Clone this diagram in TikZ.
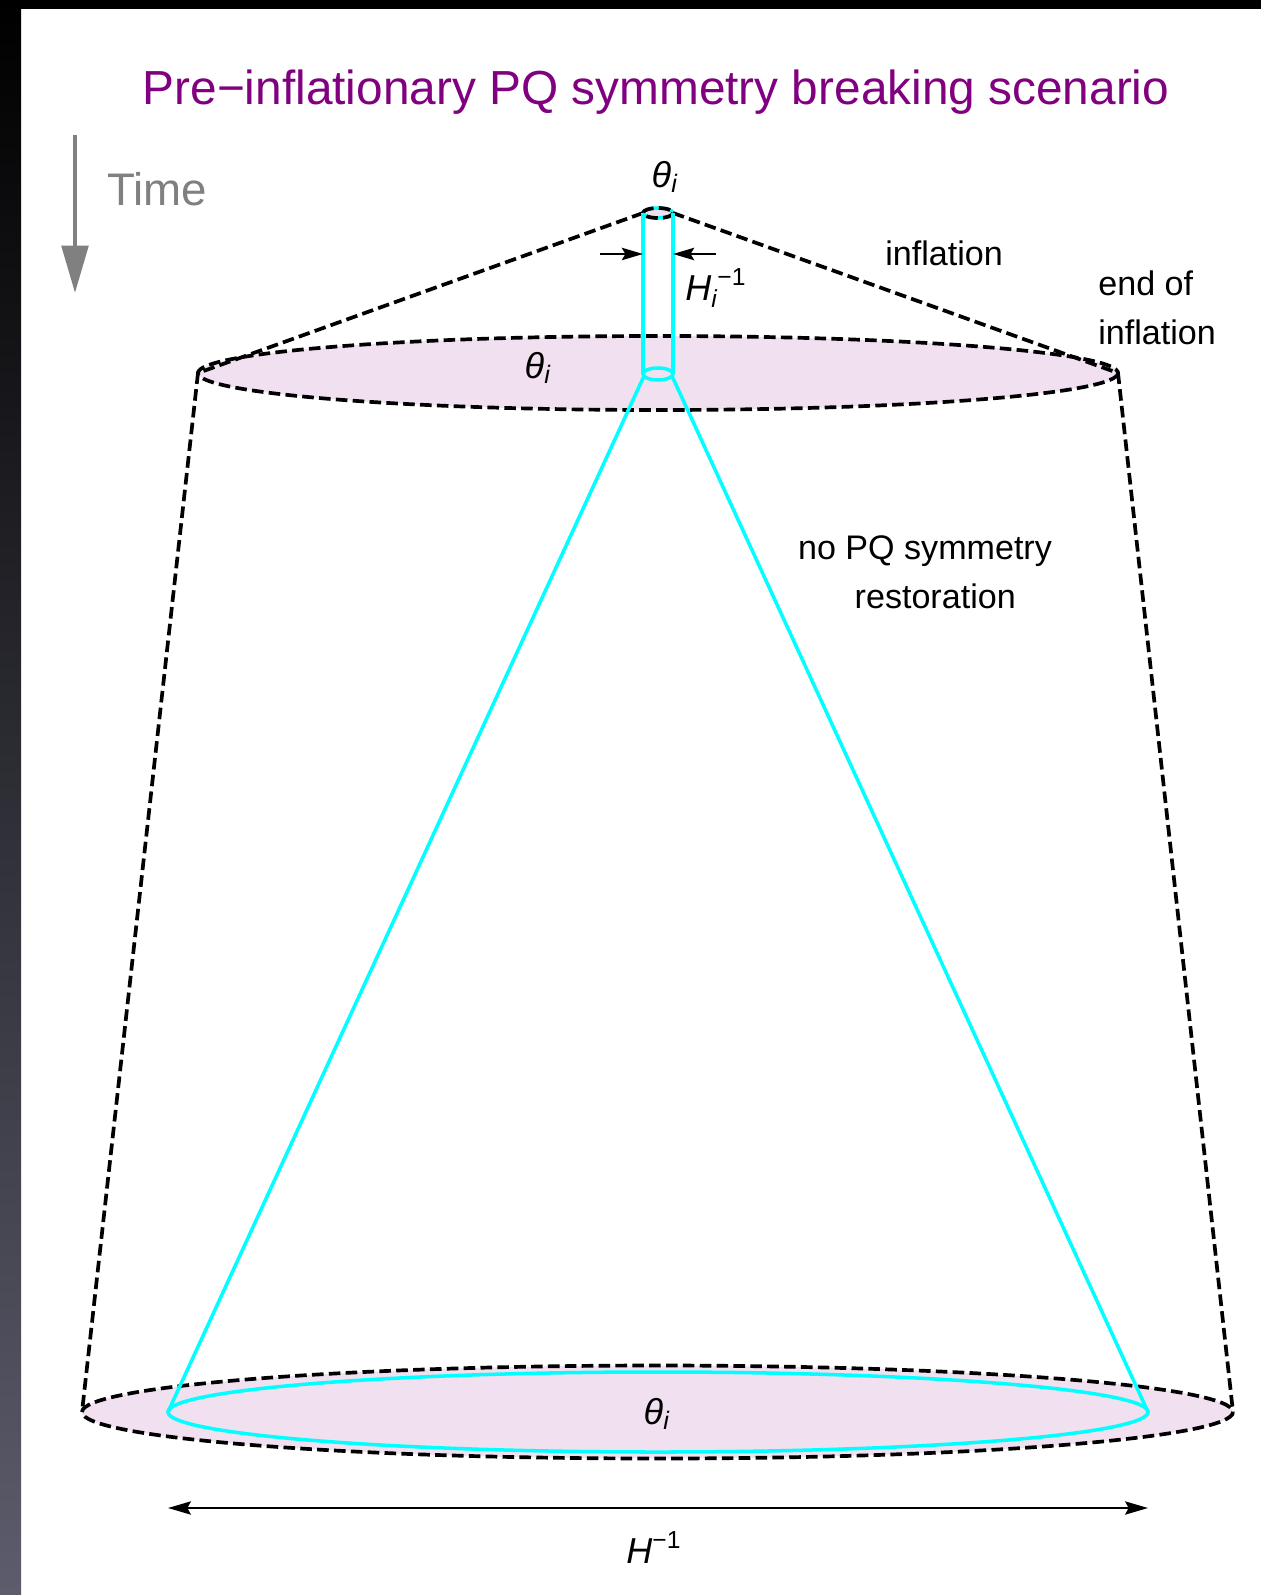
\documentclass[tikz,border=0pt]{standalone}
\usepackage{fontspec}
\setmainfont{Liberation Sans}
\usetikzlibrary{arrows.meta}
\definecolor{pqpurple}{RGB}{128,0,128}
\definecolor{discpink}{RGB}{240,224,240}
\definecolor{hubble}{RGB}{0,255,255}
\definecolor{timegray}{RGB}{128,128,128}
\newcommand{\thetaI}{\textit{θ}\textsubscript{\textit{i}}}
\newcommand{\invH}[1]{\textit{H}#1\raisebox{8.5pt}{\fontsize{14}{14}\selectfont −1}}
\tikzset{
  horizon/.style={line width=2.1pt,dash pattern=on 6.6pt off 3pt},
  patch/.style={hubble,line width=2pt},
  lbl/.style={font=\fontsize{19.4}{27.5}\selectfont,inner sep=0pt},
  mlbl/.style={font=\fontsize{20.5}{24}\selectfont,inner sep=0pt},
  width tip/.style={line width=1.4pt,-{Stealth[length=12pt,width=7pt,inset=2pt]}},
}

\begin{document}
\begin{tikzpicture}[x=0.02cm,y=-0.02cm]
    \useasboundingbox (0,0) rectangle (1261,1595);
    % frame
    \fill[white] (0,0) rectangle (1261,1595);
    \shade[top color=black,middle color={rgb,255:red,26;green,30;blue,60},bottom color={rgb,255:red,92;green,92;blue,108}] (0,0) rectangle (21,1595);
    \fill[black] (0,0) rectangle (1261,9);
    \node[font=\fontsize{27.2}{32}\selectfont,text=pqpurple] (title) at (656,92) {Pre−inflationary PQ symmetry breaking scenario};
    % time arrow
    \coordinate (tstart) at (75,135);
    \coordinate (tend) at (75,293);
    \draw[timegray,line width=2.6pt,-{Triangle[length=27pt,width=15pt]}] (tstart) -- (tend);
    \node[font=\fontsize{26}{30}\selectfont,text=timegray,anchor=base west,inner sep=0pt] (time) at (107,205) {Time};
    % key points
    \coordinate (apexL) at (643,213);
    \coordinate (apexR) at (673,213);
    \coordinate (neckL) at (644,376);
    \coordinate (neckR) at (672,376);
    \coordinate (endL) at (198,373);
    \coordinate (endR) at (1118,373);
    \coordinate (nowL) at (82,1412);
    \coordinate (nowR) at (1233,1412);
    \coordinate (patchL) at (168,1412);
    \coordinate (patchR) at (1148,1412);
    % end of inflation disc
    \fill[discpink] (658,373) ellipse [x radius=460,y radius=37];
    \draw[horizon] (658,373) ellipse [x radius=460,y radius=37];
    % today disc
    \fill[discpink] (657.5,1412) ellipse [x radius=575.5,y radius=46.5];
    \draw[horizon] (657.5,1412) ellipse [x radius=575.5,y radius=46.5];
    \draw[patch] (658,1412) ellipse [x radius=490,y radius=40];
    % apex and sides
    \fill[discpink] (658,213) ellipse [x radius=15,y radius=5];
    \draw[patch] (658,213) ellipse [x radius=15,y radius=5];
    \draw[horizon] (658,213) ellipse [x radius=15,y radius=5];
    \draw[horizon] (apexL) -- (endL) -- (nowL);
    \draw[horizon] (apexR) -- (endR) -- (nowR);
    % causal patch
    \draw[patch] (apexL) -- (643,374);
    \draw[patch] (apexR) -- (673,374);
    \draw[patch] (658,374) ellipse [x radius=15,y radius=6];
    \draw[patch] (neckL) -- (patchL);
    \draw[patch] (neckR) -- (patchR);
    % widths
    \coordinate (wl) at (600,254);
    \coordinate (wr) at (716,254);
    \draw[width tip] (wl) -- (apexL |- wl);
    \draw[width tip] (wr) -- (apexR |- wr);
    \node[mlbl,anchor=base west] (hi) at (685,300) {\invH{\raisebox{-4pt}{\fontsize{14}{14}\selectfont\textit{i}}}};
    \coordinate (hl) at (168,1508);
    \coordinate (hr) at (1148,1508);
    \draw[line width=1.3pt,{Stealth[length=13pt,width=7.5pt,inset=2pt]}-{Stealth[length=13pt,width=7.5pt,inset=2pt]}] (hl) -- (hr);
    \node[mlbl,anchor=base west] (h) at (626,1563) {\invH{}};
    % angles
    \node[mlbl] (th1) at (665,177) {\thetaI};
    \node[mlbl] (th2) at (538,368) {\thetaI};
    \node[mlbl] (th3) at (657,1414) {\thetaI};
    % texts
    \node[lbl,anchor=base west] (infl) at (885,265) {inflation};
    \node[lbl,anchor=base west,align=left] (endinfl) at (1098,344) {end of\\inflation};
    \node[lbl,anchor=base,align=center] (norest) at (925,608) {no PQ symmetry\\\hspace*{0.6em}restoration};
\end{tikzpicture}
\end{document}
